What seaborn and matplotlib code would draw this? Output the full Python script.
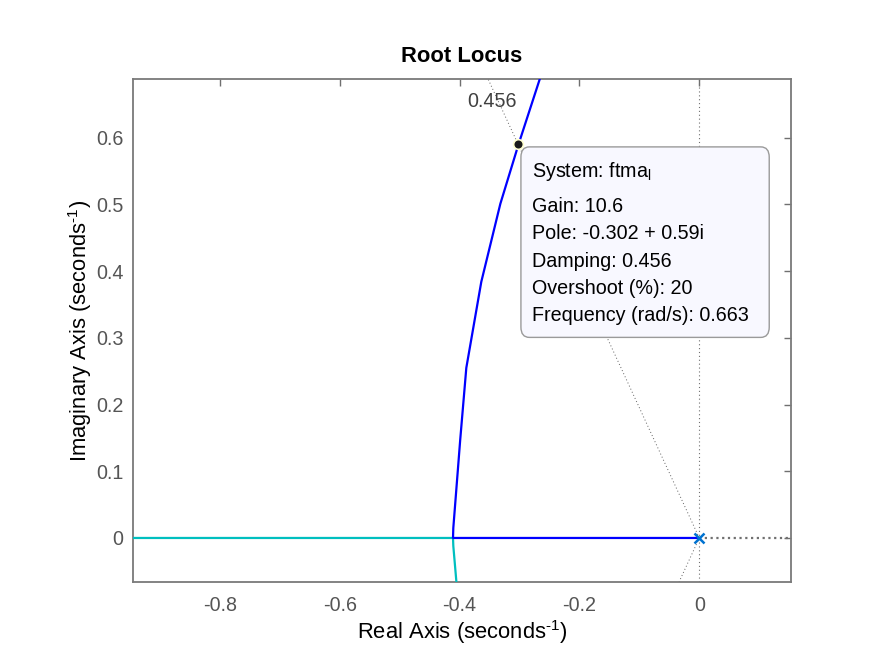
import matplotlib
matplotlib.use("Agg")
import matplotlib.pyplot as plt
from matplotlib.patches import FancyBboxPatch
import seaborn as sns
import pandas as pd

# ---- data ----
branch1_re = [0.0, -0.411, -0.4105, -0.399, -0.3888, -0.3638, -0.332, -0.3017, -0.2667, -0.255]
branch1_im = [0.0, 0.0, 0.015, 0.147, 0.255, 0.384, 0.501, 0.590, 0.6866, 0.72]
branch2_re = [-1.2, -0.411, -0.4105, -0.404]
branch2_im = [0.0, 0.0, -0.012, -0.08]
pole_re = [0.0]
pole_im = [0.0]
sel_re = [-0.302]
sel_im = [0.59]
zeta = 0.456
zeta_label = "0.456"
xticks = [-0.8, -0.6, -0.4, -0.2, 0.0]
xticklabels = ["-0.8", "-0.6", "-0.4", "-0.2", "0"]
yticks = [0.0, 0.1, 0.2, 0.3, 0.4, 0.5, 0.6]
yticklabels = ["0", "0.1", "0.2", "0.3", "0.4", "0.5", "0.6"]
tip_lines = ["Gain: 10.6", "Pole: -0.302 + 0.59i", "Damping: 0.456",
             "Overshoot (%): 20", "Frequency (rad/s): 0.663"]

sns.set_theme(style="white")
plt.rcParams["font.family"] = ["Liberation Sans", "DejaVu Sans"]
plt.rcParams["mathtext.fontset"] = "custom"
plt.rcParams["mathtext.rm"] = "Liberation Sans"
plt.rcParams["mathtext.it"] = "Liberation Sans:italic"
plt.rcParams["axes.unicode_minus"] = False

fig = plt.figure(figsize=(8.75, 6.56), dpi=100)
ax = fig.add_axes([133/875, 1-582/656, (791-133)/875, (582-79)/656])

xlim = (-0.945, 0.153)
ylim = (-0.066, 0.688)

# grid-like dotted lines
ax.axvline(0, color="#707070", lw=0.8, ls=(0, (1, 2.5)), zorder=1)
ax.plot([0, xlim[1]], [0, 0], color="#707070", lw=1.6, ls=(0, (1, 1.6)), zorder=1)
# damping lines
r = 2.0
s = (1 - zeta**2) ** 0.5
ax.plot([0, -zeta*r], [0, s*r], color="#606060", lw=0.7, ls=(0, (1, 2.5)), zorder=1)
ax.plot([0, -zeta*r], [0, -s*r], color="#606060", lw=0.7, ls=(0, (1, 2.5)), zorder=1)
ax.text(-0.346, 0.6536, zeta_label, fontsize=14.2, color="#404040", ha="center", va="center")

df1 = pd.DataFrame({"re": branch1_re, "im": branch1_im})
df2 = pd.DataFrame({"re": branch2_re, "im": branch2_im})
sns.lineplot(data=df2, x="re", y="im", sort=False, estimator=None, color="#00BFBF", lw=1.6, ax=ax, zorder=3)
sns.lineplot(data=df1, x="re", y="im", sort=False, estimator=None, color="#0000FF", lw=1.6, ax=ax, zorder=4)
ax.plot(pole_re, pole_im, marker="x", color="#0072D0", ms=7, mew=1.8, ls="none", zorder=5)

# selected point
ax.plot(sel_re, sel_im, marker="o", ms=7, mfc="#1a1a1a", mec="#FFFFD0", mew=1.2, ls="none", zorder=6)

# data tip box
x0 = (520.7-699.3)/600
x1 = (769.3-699.3)/600
y1 = (538-146.7)/667.5
y0 = (538-337.3)/667.5
box = FancyBboxPatch((x0, y0), x1-x0, y1-y0, boxstyle="round,pad=0,rounding_size=0.014",
                     fc="#F8F8FF", ec="#9a9a9a", lw=1.0, zorder=7, mutation_aspect=1.1)
ax.add_patch(box)
tx = (531.7-699.3)/600
ax.text(tx, (538-171.7)/667.5, r"System: ftma$_{\mathregular{l}}$", fontsize=14.2, color="black",
        ha="left", va="center", zorder=8)
for i, line in enumerate(tip_lines):
    py = 206.7 + 27.1*i
    ax.text(tx, (538-py)/667.5, line, fontsize=14.2, color="black", ha="left", va="center", zorder=8)

ax.set_xlim(*xlim)
ax.set_ylim(*ylim)
ax.set_xticks(xticks)
ax.set_xticklabels(xticklabels)
ax.set_yticks(yticks)
ax.set_yticklabels(yticklabels)
ax.tick_params(axis="both", direction="in", length=5, width=1.0, color="#707070",
               labelcolor="#555555", labelsize=14.2, top=True, right=True)
ax.tick_params(axis="x", pad=10)
ax.tick_params(axis="y", pad=7)
for sp in ax.spines.values():
    sp.set_color("#7a7a7a")
    sp.set_linewidth(1.3)
    sp.set_visible(True)

ax.set_xlabel(r"Real Axis (seconds$^{\mathregular{\text{-}1}}$)", fontsize=15.8, color="black", labelpad=2)
ax.set_ylabel(r"Imaginary Axis (seconds$^{\mathregular{\text{-}1}}$)", fontsize=15.8, color="black", labelpad=1.5)
ax.set_title("Root Locus", fontsize=15.8, fontweight="bold", color="black", pad=12)

fig.savefig("out.png", dpi=100)
